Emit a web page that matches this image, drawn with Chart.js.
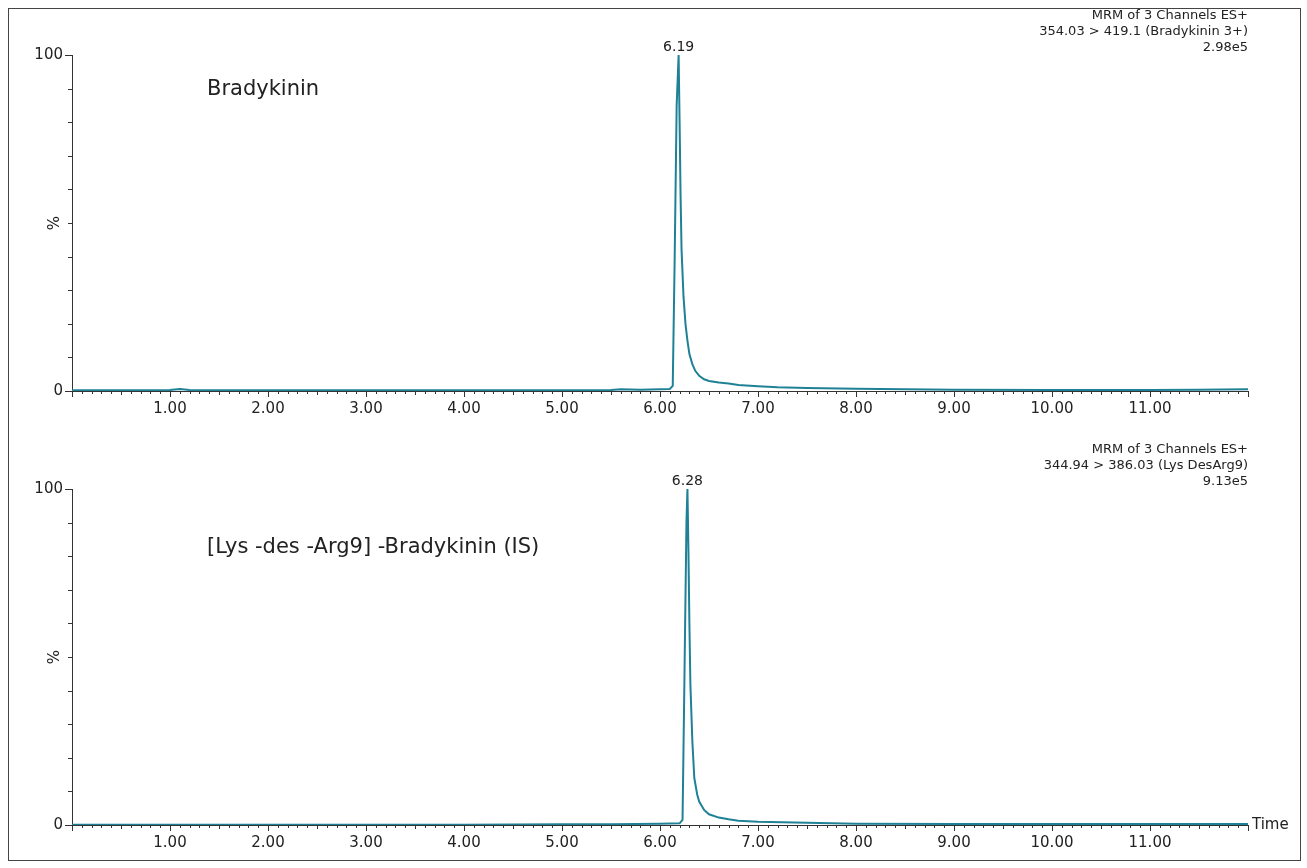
<!DOCTYPE html>
<html>
<head>
<meta charset="utf-8">
<script src="https://cdn.jsdelivr.net/npm/chart.js@4.4.1/dist/chart.umd.min.js"></script>
<style>
  body { margin: 0; background: #fff; }
  #frame { position: absolute; left: 8px; top: 8px; width: 1291px; height: 851px; border: 1px solid #444; }
  canvas { position: absolute; left: 0; }
</style>
</head>
<body>
<div id="frame"></div>
<canvas id="topChart" style="top:0"></canvas>
<canvas id="botChart" style="top:434px"></canvas>
<script>
// retention time (min) and relative intensity (%)
const topTimes = [0, 0.5, 1.0, 1.1, 1.2, 2.0, 3.0, 4.0, 5.0, 5.5, 5.6, 5.8, 6.0, 6.1, 6.13, 6.15, 6.17, 6.19, 6.2, 6.21, 6.22, 6.24, 6.26, 6.28, 6.3, 6.33, 6.36, 6.4, 6.45, 6.5, 6.6, 6.7, 6.8, 7.0, 7.2, 7.5, 8.0, 8.5, 9.0, 10.0, 11.0, 11.5, 12.0];
const topValues = [0.2, 0.2, 0.3, 0.6, 0.3, 0.2, 0.2, 0.2, 0.2, 0.3, 0.5, 0.4, 0.5, 0.6, 1.5, 40, 85, 100, 80, 58, 42, 28, 20, 15, 11, 8, 6, 4.5, 3.5, 3.0, 2.5, 2.2, 1.8, 1.4, 1.1, 0.9, 0.7, 0.5, 0.4, 0.3, 0.3, 0.4, 0.5];
const botTimes = [0, 0.5, 1.0, 2.0, 3.0, 4.0, 5.0, 5.5, 6.0, 6.2, 6.23, 6.25, 6.27, 6.28, 6.29, 6.3, 6.31, 6.33, 6.35, 6.38, 6.4, 6.45, 6.5, 6.6, 6.7, 6.8, 7.0, 7.5, 8.0, 9.0, 10.0, 11.0, 12.0];
const botValues = [0.1, 0.1, 0.1, 0.1, 0.1, 0.1, 0.2, 0.2, 0.4, 0.5, 1.5, 45, 90, 100, 82, 60, 42, 25, 14, 9, 7, 4.5, 3.2, 2.2, 1.7, 1.3, 1.0, 0.7, 0.4, 0.3, 0.3, 0.3, 0.3];
const xTickLabels = ['1.00', '2.00', '3.00', '4.00', '5.00', '6.00', '7.00', '8.00', '9.00', '10.00', '11.00'];
const topInfo = ['MRM of 3 Channels ES+', '354.03 > 419.1 (Bradykinin 3+)', '2.98e5'];
const botInfo = ['MRM of 3 Channels ES+', '344.94 > 386.03 (Lys DesArg9)', '9.13e5'];

const FONT = '"DejaVu Sans", Verdana, sans-serif';
const TRACE = '#1f8196';

function makeChart(id, times, values, peakT, peakLabel, title, info, showTime) {
  const el = document.getElementById(id);
  el.width = 1307; el.height = 434;
  const extras = {
    id: 'extras',
    afterDraw(chart) {
      const c = chart.ctx, xs = chart.scales.x, ys = chart.scales.y;
      c.save();
      c.strokeStyle = '#333'; c.lineWidth = 1;
      // x ticks
      for (let i = 0; i <= 120; i++) {
        const px = Math.round(xs.getPixelForValue(i / 10)) + 0.5;
        const len = i % 10 === 0 ? 6 : (i % 5 === 0 ? 4 : 3);
        c.beginPath(); c.moveTo(px, ys.bottom); c.lineTo(px, ys.bottom + len); c.stroke();
      }
      // y ticks
      for (let v = 0; v <= 100; v += 10) {
        const py = Math.round(ys.getPixelForValue(v)) + 0.5;
        const len = (v === 0 || v === 100) ? 7 : 4;
        c.beginPath(); c.moveTo(xs.left, py); c.lineTo(xs.left - len, py); c.stroke();
      }
      c.fillStyle = '#222';
      c.font = '14px ' + FONT;
      c.textAlign = 'center'; c.textBaseline = 'bottom';
      c.fillText(peakLabel, xs.getPixelForValue(peakT), ys.getPixelForValue(100) - 1);
      c.textAlign = 'right'; c.textBaseline = 'middle';
      c.font = '13px ' + FONT;
      info.forEach((s, i) => c.fillText(s, xs.right, 16 + i * 16));
      c.textAlign = 'left';
      c.font = '21px ' + FONT;
      c.fillText(title.text, title.x, title.y);
      c.font = '15px ' + FONT;
      if (showTime) c.fillText('Time', xs.right + 4, ys.bottom);
      c.translate(55, (ys.top + ys.bottom) / 2);
      c.rotate(-Math.PI / 2);
      c.textAlign = 'center';
      c.fillText('%', 0, 0);
      c.restore();
    }
  };
  return new Chart(el, {
    type: 'line',
    data: { datasets: [{ data: times.map((t, i) => ({ x: t, y: values[i] })), borderColor: TRACE, borderWidth: 2, pointRadius: 0, tension: 0 }] },
    options: {
      responsive: false, animation: false,
      layout: { padding: { left: 0, right: 1307 - 1248, top: 55, bottom: 0 } },
      plugins: { legend: { display: false }, tooltip: { enabled: false } },
      scales: {
        x: {
          type: 'linear', min: 0, max: 12,
          afterFit: s => { s.height = 43; },
          grid: { display: false, drawTicks: false },
          border: { display: true, color: '#333' },
          ticks: { stepSize: 1, padding: 9, color: '#222', font: { family: FONT, size: 15 }, maxRotation: 0,
            callback: v => (v >= 1 && v <= 11) ? xTickLabels[v - 1] : '' }
        },
        y: {
          min: 0, max: 100,
          afterFit: s => { s.width = 72; },
          grid: { display: false, drawTicks: false },
          border: { display: true, color: '#333' },
          ticks: { stepSize: 100, padding: 9, color: '#222', font: { family: FONT, size: 15 } }
        }
      }
    },
    plugins: [extras]
  });
}

makeChart('topChart', topTimes, topValues, 6.19, '6.19', { text: 'Bradykinin', x: 207, y: 90 }, topInfo, false);
makeChart('botChart', botTimes, botValues, 6.28, '6.28', { text: '[Lys -des -Arg9] -Bradykinin (IS)', x: 207, y: 548 - 434 }, botInfo, true);
</script>
</body>
</html>
